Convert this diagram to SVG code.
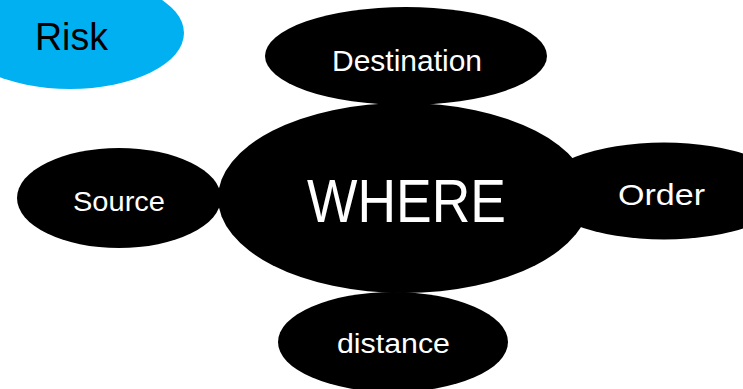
<svg xmlns="http://www.w3.org/2000/svg" width="743" height="389" viewBox="0 0 743 389">
<style>
.node{fill:#000000}
.lbl{fill:#ffffff;font-family:"Liberation Sans",Arial,sans-serif}
.risk{fill:#00B0F0}
.risklbl{fill:#000000;font-family:"Liberation Sans",Arial,sans-serif}
</style>
<rect width="743" height="389" fill="#ffffff"/>
<g id="connectors"></g>
<g id="risk">
<ellipse class="risk" cx="70" cy="33" rx="114" ry="56"/>
<text class="risklbl" x="35" y="50" font-size="38" textLength="73" lengthAdjust="spacingAndGlyphs">Risk</text>
</g>
<g id="destination">
<ellipse class="node" cx="406" cy="56" rx="141" ry="49"/>
<text class="lbl" x="332" y="71" font-size="29" textLength="150" lengthAdjust="spacingAndGlyphs">Destination</text>
</g>
<g id="source">
<ellipse class="node" cx="119" cy="198" rx="102" ry="50"/>
<text class="lbl" x="73" y="211" font-size="27" textLength="92" lengthAdjust="spacingAndGlyphs">Source</text>
</g>
<g id="order">
<ellipse class="node" cx="664" cy="191" rx="125" ry="48.5"/>
<text class="lbl" x="618" y="205" font-size="30" textLength="87" lengthAdjust="spacingAndGlyphs">Order</text>
</g>
<g id="distance">
<ellipse class="node" cx="393" cy="342" rx="115" ry="50"/>
<text class="lbl" x="337" y="353" font-size="27" textLength="113" lengthAdjust="spacingAndGlyphs">distance</text>
</g>
<g id="where">
<ellipse class="node" cx="404" cy="198" rx="186" ry="95"/>
<text class="lbl" x="307" y="222" font-size="61" textLength="199" lengthAdjust="spacingAndGlyphs">WHERE</text>
</g>
</svg>
